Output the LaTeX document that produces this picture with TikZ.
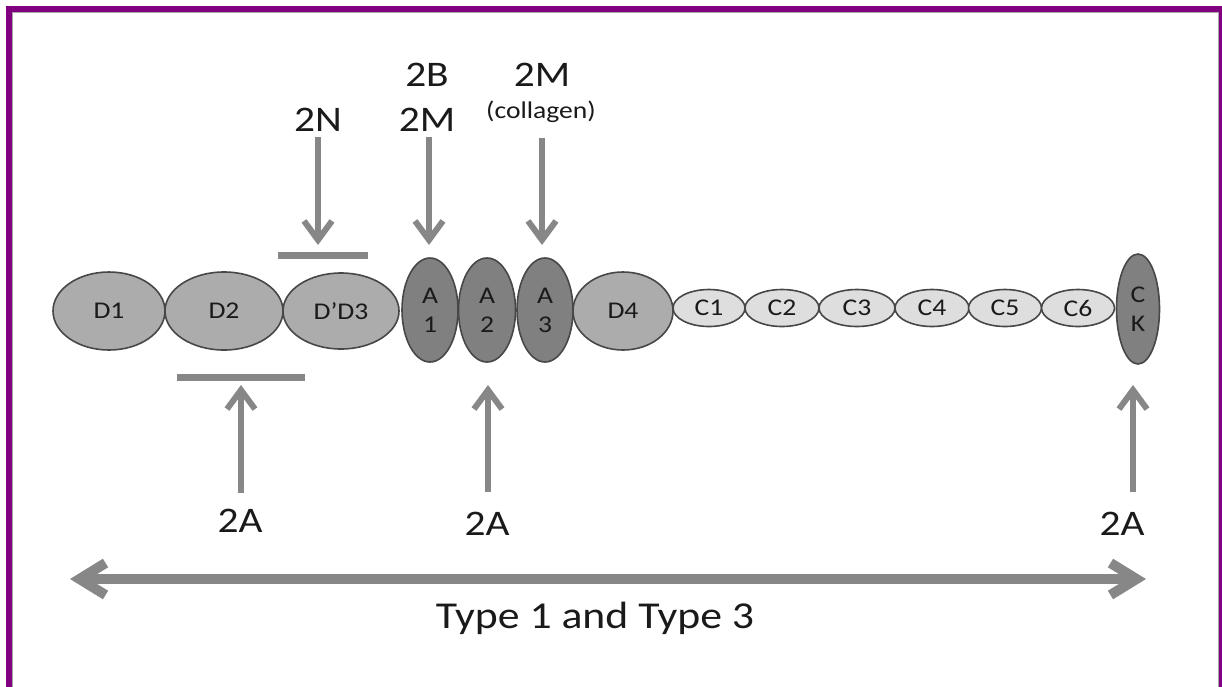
\documentclass[tikz,border=0pt]{standalone}
\usepackage{fontspec}
\setmainfont{Carlito}[FakeStretch=1.15]
\usetikzlibrary{shapes.geometric,arrows.meta}
\definecolor{frameP}{HTML}{800080}
\definecolor{gArrow}{HTML}{878787}
\definecolor{dFill}{HTML}{ACACAC}
\definecolor{aFill}{HTML}{808080}
\definecolor{cFill}{HTML}{DEDEDE}
\definecolor{outl}{HTML}{474747}
\definecolor{txt}{HTML}{1A1A1A}
\begin{document}
\begin{tikzpicture}[x=1pt,y=-1pt,
  dom/.style={ellipse,draw=outl,line width=1.6pt,inner sep=0pt,text=txt,
    font=\fontsize{24}{29}\selectfont,align=center},
  dbox/.style={dom,fill=dFill},
  abox/.style={dom,fill=aFill},
  cbox/.style={dom,fill=cFill},
  lab/.style={inner sep=0pt,text=txt,font=\fontsize{36}{40}\selectfont},
  sublab/.style={inner sep=0pt,text=txt,font=\fontsize{24}{26}\selectfont},
  garrow/.style={draw=gArrow,line width=6pt,-{Straight Barb[length=19pt,width=28pt]}},
  gbar/.style={draw=gArrow,line width=7pt},
  darrow/.style={draw=gArrow,line width=10pt,{Straight Barb[length=26pt,width=32pt]}-{Straight Barb[length=26pt,width=32pt]}}
]
\useasboundingbox (0,0) rectangle (1222,686);
% frame
\fill[white] (0,0) rectangle (1222,686);
\draw[gray!70,line width=1pt] (12.5,700) -- (12.5,12.5) -- (1218.5,12.5) -- (1218.5,700);
\fill[frameP] (6,6) rectangle (1222,12);
\fill[frameP] (6,6) rectangle (12,700);
\fill[frameP] (1219,6) rectangle (1225,700);

% domains
\node[dbox,minimum width=112pt,minimum height=78pt] (D1) at (109,311) {D1};
\node[dbox,minimum width=118pt,minimum height=78pt] (D2) at (224,311) {D2};
\node[dbox,minimum width=116pt,minimum height=76pt] (D3) at (341,311) {D’D3};
\node[abox,minimum width=56pt,minimum height=104pt] (A1) at (430,310) {A\\1};
\node[abox,minimum width=57pt,minimum height=104pt] (A2) at (487,310) {A\\2};
\node[abox,minimum width=56pt,minimum height=104pt] (A3) at (545,310) {A\\3};
\node[dbox,minimum width=100pt,minimum height=78pt] (D4) at (623,311) {D4};
\node[cbox,minimum width=72pt,minimum height=37pt] (C1) at (709,308) {C1};
\node[cbox,minimum width=74pt,minimum height=37pt] (C2) at (782,308) {C2};
\node[cbox,minimum width=76pt,minimum height=37pt] (C3) at (857,308) {C3};
\node[cbox,minimum width=74pt,minimum height=37pt] (C4) at (932,308) {C4};
\node[cbox,minimum width=73pt,minimum height=37pt] (C5) at (1005,308) {C5};
\node[cbox,minimum width=73pt,minimum height=37pt] (C6) at (1078,308) {C6};
\node[abox,minimum width=43pt,minimum height=110pt] (CK) at (1138,309) {C\\K};

% 2N
\node[lab] (l2N) at (318,120) {2N};
\coordinate (t2N) at (318,245);
\coordinate (b2Na) at (278,255);
\coordinate (b2Nb) at (368,255);
\draw[gbar] (b2Na) -- (b2Nb);
\draw[garrow,shorten <=5pt] (l2N.south) -- (t2N);

% 2B 2M
\node[lab] (l2B) at (427,75) {2B};
\node[lab] (l2M) at (427,120) {2M};
\coordinate (tA1) at (429,245);
\draw[garrow,shorten <=5pt] (l2M.south -| tA1) -- (tA1);

% 2M collagen
\node[lab] (l2Mc) at (542,75) {2M};
\node[sublab] (lcol) at (541,112) {(collagen)};
\coordinate (tA3) at (542,245);
\draw[garrow] (542,138) -- (tA3);

% 2A left
\coordinate (b2Aa) at (177,377);
\coordinate (b2Ab) at (305,377);
\draw[gbar] (b2Aa) -- (b2Ab);
\node[lab] (l2A1) at (240,521) {2A};
\coordinate (t2A1) at (241,385);
\draw[garrow,shorten <=16pt] (l2A1.north -| t2A1) -- (t2A1);

% 2A middle
\node[lab] (l2A2) at (487,524) {2A};
\coordinate (t2A2) at (488,385);
\draw[garrow,shorten <=20pt] (l2A2.north -| t2A2) -- (t2A2);

% 2A right
\node[lab] (l2A3) at (1122,524) {2A};
\coordinate (t2A3) at (1133,385);
\draw[garrow,shorten <=20pt] (l2A3.north -| t2A3) -- (t2A3);

% double arrow
\coordinate (dl) at (70,579);
\coordinate (dr) at (1146,579);
\draw[darrow] (dl) -- (dr);
\node[inner sep=0pt,text=txt,font=\fontsize{38}{42}\selectfont,anchor=base] (type) at (595,628) {Type 1 and Type 3};
\end{tikzpicture}
\end{document}
